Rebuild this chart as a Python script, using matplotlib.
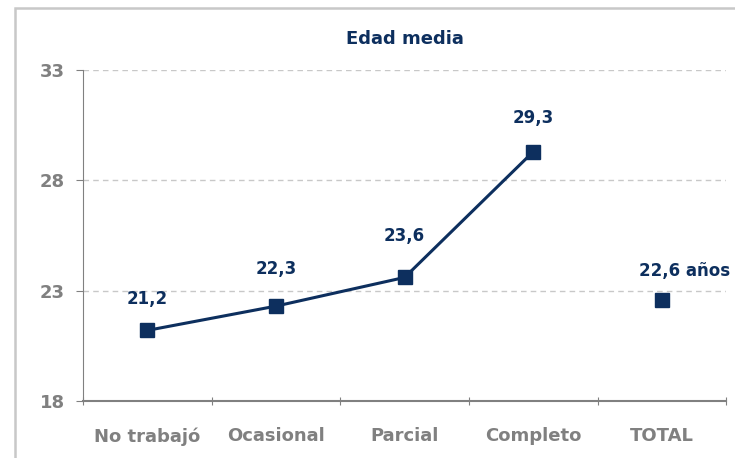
import matplotlib.pyplot as plt
from matplotlib.patches import Rectangle

# Data
categories = ['No trabajó', 'Ocasional', 'Parcial', 'Completo', 'TOTAL']
line_values = [21.2, 22.3, 23.6, 29.3]
total_value = 22.6
labels = ['21,2', '22,3', '23,6', '29,3']
total_label = '22,6 años'

# label offsets above points (points)
label_offsets = [16, 20, 23, 18]

navy = '#0d2f5e'
gray = '#808080'
plt.rcParams['font.family'] = ['DejaVu Sans']

fig = plt.figure(figsize=(7.35, 4.58), dpi=100)
ax = fig.add_axes([0.113, 0.1245, 0.875, 0.7225])

# Frame around the chart (only left/top visible in crop)
fig.patches.append(Rectangle((15 / 735, -0.1), 1.2, 1 - 8 / 458 + 0.1,
                             transform=fig.transFigure, fill=False,
                             edgecolor='#c8c8c8', linewidth=1.8))

xs = list(range(len(categories)))
ax.plot(xs[:4], line_values, color=navy, linewidth=2.2, marker='s',
        markersize=10, zorder=3)
ax.plot([xs[4]], [total_value], color=navy, marker='s', markersize=10,
        linestyle='none', zorder=3)

for x, v, t, off in zip(xs[:4], line_values, labels, label_offsets):
    ax.annotate(t, (x, v), xytext=(0, off), textcoords='offset points',
                ha='center', va='bottom', color=navy, fontweight='bold',
                fontsize=12)
ax.annotate(total_label, (xs[4], total_value), xytext=(16, 14),
            textcoords='offset points', ha='center', va='bottom',
            color=navy, fontweight='bold', fontsize=12)

ax.set_xlim(-0.5, 4.5)
ax.set_ylim(18, 33)
ax.set_yticks([18, 23, 28, 33])
ax.set_xticks([i - 0.5 for i in range(6)])
ax.set_xticklabels([])
ax.set_xticks(xs, minor=True)
ax.set_xticklabels(categories, minor=True)
ax.tick_params(axis='x', which='minor', length=0, pad=19)
ax.tick_params(axis='x', which='major', length=6, color=gray, direction='inout')
ax.tick_params(axis='y', length=5, color=gray, direction='out', pad=8)
for lbl in ax.get_xticklabels(minor=True) + ax.get_yticklabels():
    lbl.set_color(gray)
    lbl.set_fontweight('bold')
    lbl.set_fontsize(13)

ax.yaxis.grid(True, linestyle=(0, (4, 3)), color='#c8c8c8', linewidth=1)
ax.set_axisbelow(True)
for s in ['top', 'right']:
    ax.spines[s].set_visible(False)
ax.spines['left'].set_color(gray)
ax.spines['bottom'].set_color(gray)
ax.spines['bottom'].set_linewidth(1.5)

ax.set_title('Edad media', color=navy, fontweight='bold', fontsize=13, pad=19)

fig.savefig('out.png', dpi=100)
